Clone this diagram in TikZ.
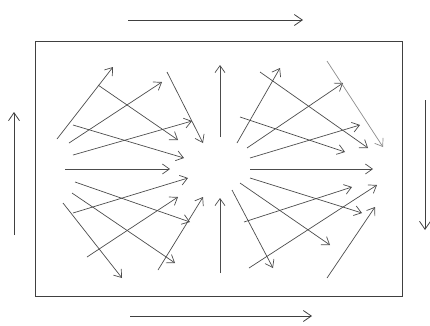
\documentclass[tikz,border=0pt]{standalone}
\usetikzlibrary{arrows.meta}
\begin{document}
\begin{tikzpicture}[x=1pt,y=-1pt,
  arr/.style={draw=black!70,line width=0.7pt,-{Straight Barb[length=7pt,width=10pt,line width=0.7pt]}},
  arrl/.style={arr,draw=black!45},
  flow/.style={draw=black!75,line width=0.8pt,-{Straight Barb[length=8pt,width=11pt,line width=0.8pt]}},
  frame/.style={draw=black!75,line width=1pt}]
\useasboundingbox (0,0) rectangle (430,325);
\node[frame,inner sep=0pt,minimum width=367pt,minimum height=255pt] (box) at (218.5,168.5) {};
% outer flow arrows
\coordinate (t1) at (128,20); \coordinate (t2) at (303,20);
\coordinate (b1) at (130,316); \coordinate (b2) at (312,316);
\coordinate (l1) at (14,235); \coordinate (l2) at (14,112);
\coordinate (r1) at (425,100); \coordinate (r2) at (425,230);
\draw[flow] (t1) -- (t2);
\draw[flow] (b1) -- (b2);
\draw[flow] (l1) -- (l2);
\draw[flow] (r1) -- (r2);
% interior arrows
\foreach \n/\x/\y/\u/\v in {
  A/57/139/113/67, B/69/143/162/82, C/98/85/178/140, D/73/155/192/121,
  E/73/125/184/158, F/167/72/203/143, H0/65/169/170/169, Vup/220/137/220/65,
  G/75/182/190/222, H/73/213/188/178, I/72/193/175/263, J/87/257/178/197,
  K/63/203/122/278, L/158/270/203/197, Vdn/220/273/220/198,
  M/237/143/280/68, N/260/72/368/148, O/247/148/343/83, P/240/117/345/152,
  Q/250/158/360/125, H1/250/169/373/169,
  S/250/178/362/213, T/244/222/352/187, U/240/183/330/245, V/249/268/377/185,
  W/232/190/273/268, X/327/278/375/207}
{
  \coordinate (s\n) at (\x,\y);
  \coordinate (e\n) at (\u,\v);
  \draw[arr] (s\n) -- (e\n);
}
\coordinate (sR) at (327,61); \coordinate (eR) at (383,147);
\draw[arrl] (sR) -- (eR);
\end{tikzpicture}
\end{document}
